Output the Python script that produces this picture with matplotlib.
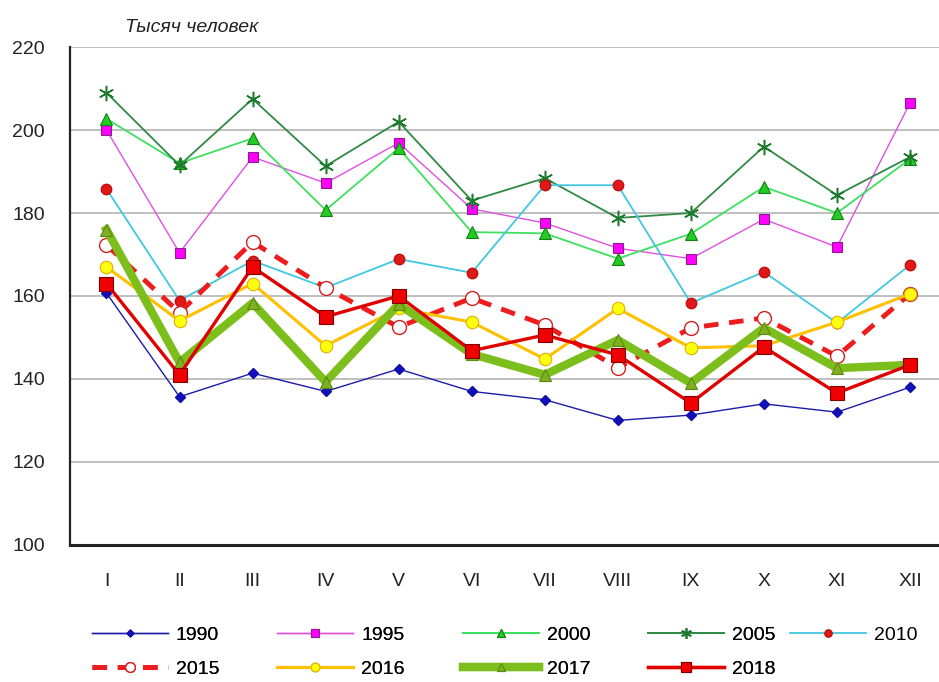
import matplotlib
matplotlib.use("Agg")
import matplotlib.pyplot as plt

plt.rcParams['font.family'] = ['Liberation Sans', 'DejaVu Sans']

# ===== data =====
MONTHS = ["I", "II", "III", "IV", "V", "VI", "VII", "VIII", "IX", "X", "XI", "XII"]
y1990 = [160.7, 135.7, 141.4, 137.0, 142.4, 137.0, 135.0, 130.0, 131.3, 134.0, 132.0, 138.0]
y1995 = [200.0, 170.4, 193.5, 187.2, 196.9, 181.0, 177.6, 171.5, 169.0, 178.5, 171.8, 206.5]
y2000 = [202.7, 192.0, 198.0, 180.7, 195.6, 175.4, 175.1, 169.0, 175.0, 186.3, 180.0, 193.0]
y2005 = [209.0, 191.5, 207.5, 191.3, 202.0, 183.0, 188.4, 178.8, 180.0, 196.0, 184.3, 193.5]
y2010 = [185.8, 158.9, 168.5, 162.0, 168.9, 165.6, 186.7, 186.7, 158.3, 165.8, 153.5, 167.5]
y2015 = [172.3, 156.0, 173.0, 162.0, 152.5, 159.5, 153.0, 142.7, 152.3, 154.7, 145.5, 160.5]
y2016 = [167.0, 154.0, 163.0, 148.0, 157.0, 153.7, 144.8, 157.0, 147.5, 148.0, 153.7, 160.5]
y2017 = [176.0, 144.0, 158.3, 139.3, 158.0, 146.0, 141.0, 149.4, 139.0, 152.3, 142.6, 143.4]
y2018 = [163.0, 141.0, 167.0, 155.0, 160.0, 146.8, 150.6, 145.8, 134.2, 147.7, 136.6, 143.4]
YTICKS = [100, 120, 140, 160, 180, 200, 220]

x = range(len(MONTHS))

fig = plt.figure(figsize=(9.39, 6.82), dpi=100)
ax = fig.add_axes([0.0745, 0.201, 0.9335, 0.730])

# ===== lines =====
l1990, = ax.plot(x, y1990, color="#1c1ca8", lw=1.0, marker="D", ms=5,
                 mfc="#1010c0", mec="#1010a0", label="1990")
l1995, = ax.plot(x, y1995, color="#e050e0", lw=1.0, marker="s", ms=7.5,
                 mfc="#ff00ff", mec="#8a208a", mew=0.8, label="1995")
l2000, = ax.plot(x, y2000, color="#3ee060", lw=1.3, marker="^", ms=8,
                 mfc="#22cc22", mec="#148014", mew=0.8, label="2000")
l2005, = ax.plot(x, y2005, color="#2f8a45", lw=1.3, marker=(6, 2, 0), ms=11,
                 mec="#1c7a2c", mew=1.1, label="2005")
l2010, = ax.plot(x, y2010, color="#40c8e0", lw=1.3, marker="o", ms=7.5,
                 mfc="#e01818", mec="#c01010", label="2010")
l2015, = ax.plot(x, y2015, color="#ee1c1c", lw=3.5, ls=(0, (3, 2.2)), marker="o", ms=10,
                 mfc="white", mec="#d02020", mew=1.0, label="2015")
l2016, = ax.plot(x, y2016, color="#ffc000", lw=2.2, marker="o", ms=9,
                 mfc="#ffff10", mec="#e0b000", mew=0.8, label="2016")
l2017, = ax.plot(x, y2017, color="#7cbf1c", lw=6.0, marker="^", ms=9,
                 mfc="#80b020", mec="#5a8a10", mew=0.8, label="2017")
l2018, = ax.plot(x, y2018, color="#e00000", lw=2.4, marker="s", ms=10.5,
                 mfc="#f00000", mec="#800000", mew=0.8, label="2018")

# ===== axes =====
ax.set_xlim(-0.5, len(MONTHS) - 0.5)
ax.set_ylim(100, 220)
ax.set_yticks(YTICKS)
ax.set_xticks(list(x))
ax.set_xticklabels(MONTHS)
ax.tick_params(axis="both", length=0, labelsize=14, colors="#222222")
ax.tick_params(axis="y", pad=18)
ax.tick_params(axis="x", pad=20)
ax.yaxis.grid(True, color="#b4b4b4", lw=1.2)
ax.set_axisbelow(True)
for side in ["top", "right"]:
    ax.spines[side].set_visible(False)
ax.spines["left"].set_linewidth(1.6)
ax.spines["bottom"].set_linewidth(2.2)
ax.spines["left"].set_color("#222222")
ax.spines["bottom"].set_color("#222222")

fig.text(125 / 939, 1 - 28 / 682, "Тысяч человек", fontsize=14, style="italic",
         color="#222222", ha="left", va="center")

# ===== legend =====
handles = [l1990, l2015, l1995, l2016, l2000, l2017, l2005, l2018]
leg = fig.legend(handles=handles, labels=[h.get_label() for h in handles],
                 ncol=4, loc="upper left", bbox_to_anchor=(92 / 939, 1 - 626 / 682),
                 frameon=False, fontsize=14, handlelength=3.9, handletextpad=0.4,
                 columnspacing=3.0, labelspacing=0.85, numpoints=1, markerscale=0.7,
                 borderaxespad=0, borderpad=0)
fig.add_artist(leg)
fig.legend(handles=[l2010], labels=["2010"], loc="upper left",
           bbox_to_anchor=(790 / 939, 1 - 626 / 682), frameon=False, fontsize=14,
           handlelength=3.9, handletextpad=0.4, numpoints=1, markerscale=0.7,
           borderaxespad=0, borderpad=0)

fig.savefig("out.png", dpi=100)
